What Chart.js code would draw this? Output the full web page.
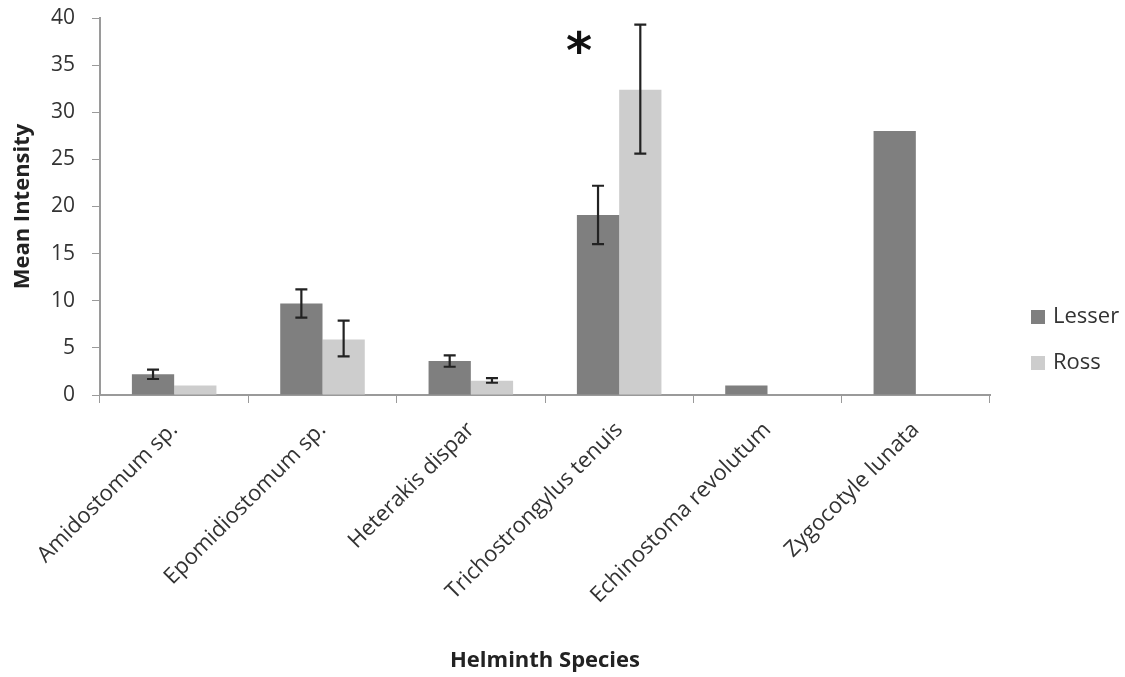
<!DOCTYPE html>
<html>
<head>
<meta charset="utf-8">
<script src="https://cdn.jsdelivr.net/npm/chart.js@4.4.0/dist/chart.umd.min.js"></script>
<style>
html,body{margin:0;padding:0;background:#fff;}
#wrap{width:1125px;height:677px;}
</style>
</head>
<body>
<div id="wrap"><canvas id="c" width="1125" height="677"></canvas></div>
<script>
const categories = ["Amidostomum sp.", "Epomidiostomum sp.", "Heterakis dispar", "Trichostrongylus tenuis", "Echinostoma revolutum", "Zygocotyle lunata"];
const lesserValues = [2.2, 9.7, 3.6, 19.1, 1.0, 28.0];
const rossValues = [1.0, 5.9, 1.5, 32.4, null, null];
const lesserErrLow = [1.7, 8.2, 3.0, 16.0, null, null];
const lesserErrHigh = [2.7, 11.2, 4.2, 22.2, null, null];
const rossErrLow = [null, 4.1, 1.3, 25.6, null, null];
const rossErrHigh = [null, 7.9, 1.8, 39.3, null, null];
const yTicks = [0, 5, 10, 15, 20, 25, 30, 35, 40];
const significantIndex = 3;
const FONT = '"Open Sans", sans-serif';

const extras = {
  id: 'extras',
  afterDatasetsDraw(chart) {
    const ctx = chart.ctx;
    const y = chart.scales.y;
    const sets = [[lesserErrLow, lesserErrHigh], [rossErrLow, rossErrHigh]];
    ctx.save();
    ctx.strokeStyle = '#222';
    ctx.lineWidth = 2.2;
    sets.forEach((pair, di) => {
      const meta = chart.getDatasetMeta(di);
      meta.data.forEach((bar, i) => {
        const lo = pair[0][i], hi = pair[1][i];
        if (lo == null || hi == null) return;
        const x = bar.x;
        const y1 = y.getPixelForValue(lo), y2 = y.getPixelForValue(hi);
        const cap = 6;
        ctx.beginPath();
        ctx.moveTo(x, y1); ctx.lineTo(x, y2);
        ctx.moveTo(x - cap, y1); ctx.lineTo(x + cap, y1);
        ctx.moveTo(x - cap, y2); ctx.lineTo(x + cap, y2);
        ctx.stroke();
      });
    });
    // significance asterisk
    const bar = chart.getDatasetMeta(0).data[significantIndex];
    ctx.fillStyle = '#111';
    ctx.font = 'bold 50px "DejaVu Sans"';
    ctx.textAlign = 'center';
    ctx.textBaseline = 'alphabetic';
    ctx.fillText('*', bar.x - 19, y.getPixelForValue(34.7));
    ctx.restore();
  },
  afterDraw(chart) {
    // legend on the right
    const ctx = chart.ctx;
    const area = chart.chartArea;
    ctx.save();
    ctx.font = '22px ' + FONT;
    ctx.textBaseline = 'middle';
    ctx.textAlign = 'left';
    const x0 = area.right + 41;
    const yc = [317, 363];
    chart.data.datasets.forEach((d, i) => {
      ctx.fillStyle = d.backgroundColor;
      ctx.fillRect(x0, yc[i] - 7, 14, 14);
      ctx.fillStyle = '#333';
      ctx.fillText(d.label, x0 + 22, yc[i]);
    });
    ctx.restore();
  }
};

new Chart(document.getElementById('c'), {
  type: 'bar',
  data: {
    labels: categories,
    datasets: [
      { label: 'Lesser', data: lesserValues, backgroundColor: '#7f7f7f', categoryPercentage: 0.57, barPercentage: 1.0 },
      { label: 'Ross', data: rossValues, backgroundColor: '#cdcdcd', categoryPercentage: 0.57, barPercentage: 1.0 }
    ]
  },
  options: {
    responsive: false,
    animation: false,
    layout: { padding: { top: 18, right: 135, bottom: 0, left: 0 } },
    plugins: {
      tooltip: { enabled: false },
      legend: { display: false }
    },
    scales: {
      x: {
        afterFit(s) { s.height = 282; },
        grid: { display: true, drawOnChartArea: false, drawTicks: true, tickLength: 8, color: '#9a9a9a', offset: true },
        border: { color: '#9a9a9a', width: 2 },
        ticks: {
          color: '#333', maxRotation: 45, minRotation: 45, padding: 14, autoSkip: false,
          font: { family: FONT, size: 22 }
        },
        title: {
          display: true, text: 'Helminth Species', color: '#222',
          font: { family: FONT, size: 22, weight: 'bold' }, padding: { top: 0, bottom: 3 }
        }
      },
      y: {
        min: 0, max: 40,
        afterFit(s) { s.width = 100; s.paddingTop = 0; s.paddingBottom = 0; },
        afterBuildTicks(scale) { scale.ticks = yTicks.map(v => ({ value: v })); },
        grid: { display: true, drawOnChartArea: false, drawTicks: true, tickLength: 8, color: '#9a9a9a' },
        border: { color: '#9a9a9a', width: 2 },
        ticks: {
          color: '#333', padding: 17,
          font: { family: FONT, size: 21 }
        },
        title: {
          display: true, text: 'Mean Intensity', color: '#222',
          font: { family: FONT, size: 22, weight: 'bold' }, padding: { top: 10, bottom: 0 }
        }
      }
    }
  },
  plugins: [extras]
});
</script>
</body>
</html>
